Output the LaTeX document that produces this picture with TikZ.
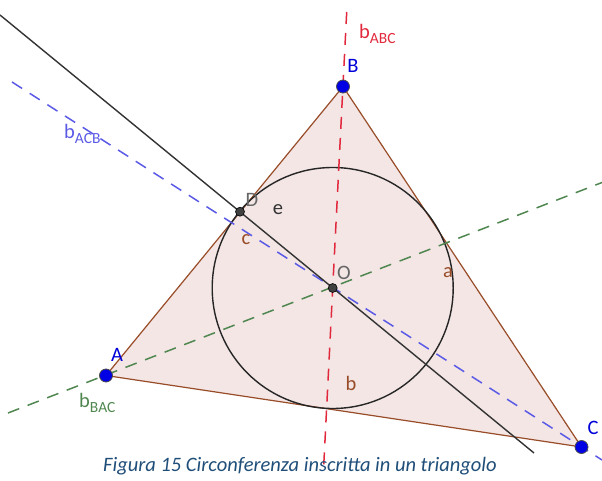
\documentclass[tikz,border=0pt]{standalone}
\usepackage{fontspec}
\setmainfont{Carlito}
\newcommand\mysub[1]{\raisebox{-0.28em}{\fontsize{15.5}{15.5}\selectfont #1}}
\begin{document}
\begin{tikzpicture}[x=1pt,y=-1pt,
  pt/.style={circle,fill=blue!90!black,draw=black!70,line width=0.8pt,inner sep=0pt,minimum size=13pt},
  ipt/.style={circle,fill=black!75,draw=black,line width=0.6pt,inner sep=0pt,minimum size=9pt},
  bis/.style={dashed,dash pattern=on 12pt off 9pt,line width=1.5pt},
  lbl/.style={font=\fontsize{20.5}{20.5}\selectfont,inner sep=0pt}]
\useasboundingbox (0,0) rectangle (602,481);
\definecolor{tri}{RGB}{153,76,40}
\definecolor{trifill}{RGB}{243,230,229}
\definecolor{capblue}{RGB}{31,78,121}
\definecolor{bisblue}{RGB}{90,90,230}
\definecolor{bisgreen}{RGB}{80,135,80}
\definecolor{bisred}{RGB}{225,40,60}
\coordinate (A) at (106,375.5);
\coordinate (B) at (343,86.5);
\coordinate (C) at (581.5,447);
\coordinate (O) at (332.7,288);
\coordinate (D) at (240,211.7);
% triangle
\filldraw[fill=trifill,draw=tri,line width=1.2pt] (A) -- (B) -- (C) -- cycle;
% incircle
\draw[black!85,line width=1.4pt] (O) circle (120.5);
% bisectors
\coordinate (bt) at (346.7,12);
\coordinate (bb) at (323.5,470);
\draw[bis,bisred] (bt) -- (bb);
\coordinate (ct) at (12,82);
\coordinate (cb) at (602,460);
\draw[bis,bisblue] (ct) -- (cb);
\coordinate (al) at (8,413);
\coordinate (ar) at (602,182.5);
\draw[bis,bisgreen] (al) -- (ar);
% line e
\coordinate (et) at (0,15);
\coordinate (eb) at (534,453);
\draw[black!80,line width=1.4pt] (et) -- (eb);
% points
\node[pt] (pA) at (A) {};
\node[pt] (pB) at (B) {};
\node[pt] (pC) at (C) {};
\node[ipt] (pO) at (O) {};
\node[ipt] (pD) at (D) {};
% labels
\node[lbl,text=bisred,anchor=west] (lb1) at (359,34) {b\mysub{ABC}};
\node[lbl,text=blue!85!black] (lB) at (353,66) {B};
\node[lbl,text=bisblue,anchor=west] (lb2) at (64,134) {b\mysub{ACB}};
\node[lbl,text=black!60] (lD) at (252,200) {D};
\node[lbl,text=black!80] (le) at (278,210) {e};
\node[lbl,text=tri] (lc) at (246,240) {c};
\node[lbl,text=black!60] (lO) at (344,273) {O};
\node[lbl,text=tri] (la) at (448,273) {a};
\node[lbl,text=tri] (lb) at (351,383) {b};
\node[lbl,text=blue!85!black] (lA) at (117,355) {A};
\node[lbl,text=bisgreen,anchor=west] (lb3) at (79,403) {b\mysub{BAC}};
\node[lbl,text=blue!85!black] (lC) at (593,428) {C};
\node[font=\fontsize{20.5}{20.5}\selectfont\itshape,text=capblue,inner sep=0pt] (cap) at (300,466) {Figura 15 Circonferenza inscritta in un triangolo};
\end{tikzpicture}
\end{document}
